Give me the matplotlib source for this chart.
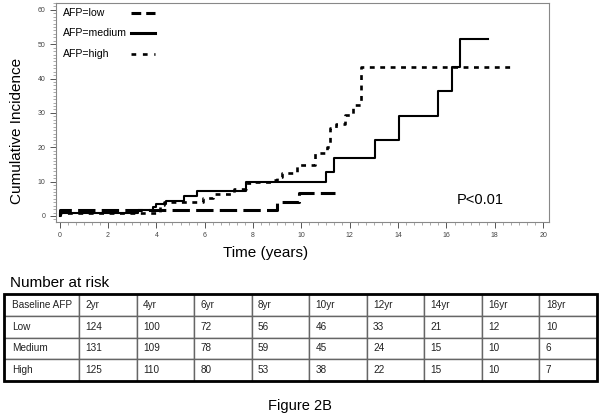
import numpy as np
import matplotlib
matplotlib.use("Agg")
import matplotlib.pyplot as plt
from matplotlib.ticker import MultipleLocator

plt.rcParams["font.family"] = ["Liberation Sans", "DejaVu Sans"]
plt.rcParams["lines.scale_dashes"] = False

# Kumulative Inzidenz (Stufenkurven)
low_t = [0, 0, 9.0, 9.9, 11.4]
low_v = [0, 1.7, 4.0, 6.6, 6.6]

med_t = [0, 0, 3.25, 3.85, 4.0, 4.4, 5.15, 5.7, 7.7, 11.0, 11.36, 13.05,
         14.04, 15.64, 16.22, 16.55, 17.7]
med_v = [0, 1.0, 1.7, 2.5, 3.5, 4.4, 5.8, 7.3, 9.9, 12.8, 16.8, 22.2,
         29.2, 36.5, 43.5, 51.4, 51.4]

high_t = [0, 0, 4.15, 4.3, 5.93, 6.35, 7.2, 7.7, 8.1, 8.8, 8.97, 9.2, 9.8,
          10.55, 11.05, 11.2, 11.45, 11.8, 12.13, 12.45, 18.7]
high_v = [0, 1.0, 3.2, 4.0, 5.1, 6.3, 8.0, 9.6, 10.0, 10.4, 11.4, 12.4, 14.8,
          18.3, 20.0, 25.6, 26.9, 29.3, 32.4, 43.5, 43.5]

# Number at risk
col_labels = ["Baseline AFP", "2yr", "4yr", "6yr", "8yr", "10yr", "12yr",
              "14yr", "16yr", "18yr"]
risk_low = [124, 100, 72, 56, 46, 33, 21, 12, 10]
risk_med = [131, 109, 78, 59, 45, 24, 15, 10, 6]
risk_high = [125, 110, 80, 53, 38, 22, 15, 10, 7]

fig = plt.figure(figsize=(6.01, 4.19), dpi=100)
ax = fig.add_axes([56/601, 1-222/419, (549-56)/601, (222-3)/419])

low_dash = (12.5, 4.5)
high_dash = (3.5, 4.0)
ax.plot(low_t, low_v, color="black", lw=2.2, drawstyle="steps-post",
        dashes=low_dash)
ax.plot(med_t, med_v, color="black", lw=1.5, drawstyle="steps-post")
ax.plot(high_t, high_v, color="black", lw=1.9, drawstyle="steps-post",
        dashes=high_dash)

ax.set_xlim(-0.15, 20.24)
ax.set_ylim(-1.75, 62)
ax.xaxis.set_major_locator(MultipleLocator(2))
ax.xaxis.set_minor_locator(MultipleLocator(1/3))
ax.yaxis.set_major_locator(MultipleLocator(10))
ax.yaxis.set_minor_locator(MultipleLocator(1))
ax.tick_params(which="major", length=4, width=0.7, color="#555555",
               labelsize=5, labelcolor="#444444", pad=3.5)
ax.tick_params(which="minor", length=2, width=0.5, color="#888888")
for s in ax.spines.values():
    s.set_color("#888888")
    s.set_linewidth(0.8)

ax.set_xlabel("Time (years)", fontsize=11)
ax.xaxis.set_label_coords(0.425, -0.11)
ax.set_ylabel("Cumulative Incidence", fontsize=11)
ax.yaxis.set_label_coords(-0.065, 0.415)
ax.text(17.38, 4.65, "P<0.01", fontsize=10.5, ha="center", va="center")

# Legende: Text links, Linienmuster rechts daneben
leg_labels = ["AFP=low", "AFP=medium", "AFP=high"]
leg_styles = [dict(lw=2.2, dashes=(7, 3.6)), dict(lw=2.2),
              dict(lw=1.9, dashes=(3.4, 4.8))]
leg_y = [0.953, 0.861, 0.767]
for lab, st, yy in zip(leg_labels, leg_styles, leg_y):
    ax.text(0.0142, yy, lab, transform=ax.transAxes, fontsize=7.6,
            va="center", ha="left")
    ax.plot([0.152, 0.201], [yy, yy], transform=ax.transAxes,
            color="black", **st)

fig.text(10/601, 1-283/419, "Number at risk", fontsize=11, va="center")

tax = fig.add_axes([4/601, 1-381/419, 593/601, 87/419])
tax.axis("off")
cells = [col_labels,
         ["Low"] + [str(v) for v in risk_low],
         ["Medium"] + [str(v) for v in risk_med],
         ["High"] + [str(v) for v in risk_high]]
widths = [75] + [57.5] * 9
widths = [w / sum(widths) for w in widths]
tbl = tax.table(cellText=cells, cellLoc="left", colWidths=widths,
                bbox=[0, 0, 1, 1])
tbl.auto_set_font_size(False)
tbl.set_fontsize(7.2)
for (r, c), cell in tbl.get_celld().items():
    cell.set_edgecolor("#666666")
    cell.set_linewidth(1.0)
    cell.PAD = 0.11
    cell.get_text().set_color("#222222")
tax.add_patch(plt.Rectangle((0, 0), 1, 1, transform=tax.transAxes,
                            fill=False, lw=2, ec="black", clip_on=False))

fig.text(300/601, 1-406/419, "Figure 2B", fontsize=10.5, ha="center",
         va="center")

fig.savefig("out.png", dpi=100)
